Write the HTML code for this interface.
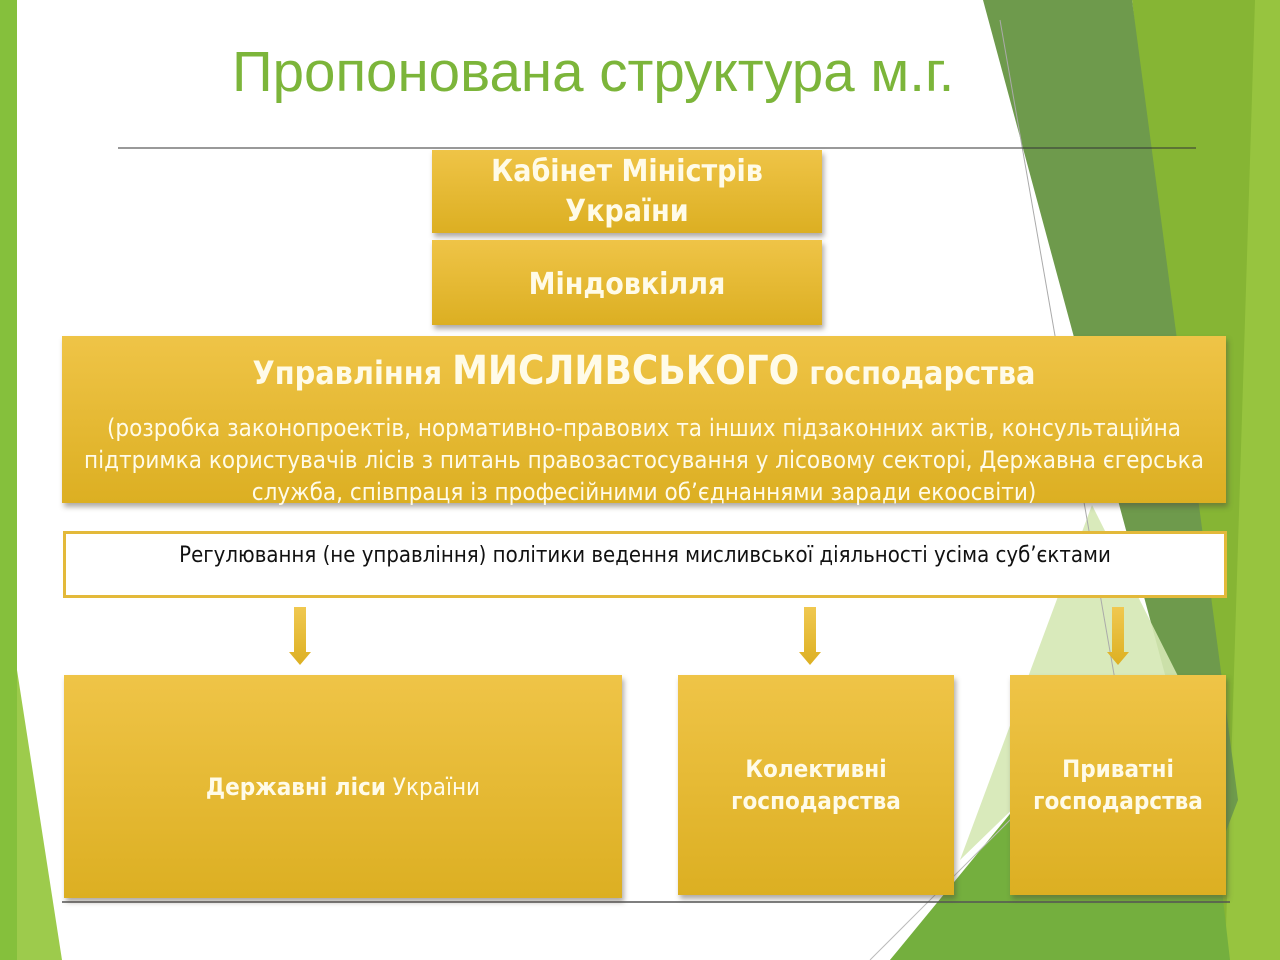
<!DOCTYPE html>
<html><head><meta charset="utf-8">
<style>
body{margin:0;width:1280px;height:960px;overflow:hidden;background:#fff;position:relative;font-family:"DejaVu Sans Condensed","DejaVu Sans","Liberation Sans",sans-serif;}
.a{position:absolute;}
.g{position:absolute;background:linear-gradient(#efc447,#dcaf22);box-shadow:2px 4px 5px rgba(80,70,60,.45);color:#fffbe8;display:flex;align-items:center;justify-content:center;text-align:center;}
.t{font-weight:bold;}
.nw{white-space:nowrap;}
</style></head><body>
<svg class="a" style="left:0;top:0" width="1280" height="960">
<rect x="0" y="0" width="17" height="960" fill="#85c03c"/>
<polygon points="17,670 17,960 62,960" fill="#9dcb4c"/>
<polygon points="1132,0 1280,0 1280,960 890,960 1120,690 1210,690" fill="#86b534"/>
<polygon points="1255,0 1280,0 1280,960 1225,960" fill="#97c43f"/>
<polygon points="983,0 1132,0 1238,800 1215,860" fill="#6e9a4c"/>
<polygon points="1092,505 1190,700 1125,700 960,860" fill="#d5e8b4" opacity="0.9"/>
<polygon points="890,960 1120,680 1200,700 1230,960" fill="#74af3e"/>
<line x1="1000" y1="20" x2="1115" y2="680" stroke="#aaa" stroke-width="1"/>
<line x1="870" y1="960" x2="1060" y2="770" stroke="#bbb" stroke-width="1"/>
<line x1="118" y1="148" x2="1196" y2="148" stroke="#333" stroke-width="1"/>
<line x1="62" y1="902" x2="1230" y2="902" stroke="#555" stroke-width="1.5"/>
</svg>
<div class="a nw" style="left:232px;top:40px;font-family:'Liberation Sans',sans-serif;font-size:56.5px;color:#7cb53a;line-height:64px;">Пропонована структура м.г.</div>

<div class="g t" style="left:432px;top:150px;width:390px;height:83px;font-size:30px;line-height:40px;">Кабінет Міністрів<br>України</div>
<div class="g t" style="left:432px;top:240px;width:390px;height:85px;font-size:30px;padding-top:3px;box-sizing:border-box;">Міндовкілля</div>

<div class="g" style="left:62px;top:336px;width:1164px;height:167px;display:block;">
<div class="t nw" style="margin-top:15px;font-size:32px;line-height:40px;">Управління <span style="font-size:40px">МИСЛИВСЬКОГО</span> господарства</div>
<div class="nw" style="margin-top:19px;font-size:24px;line-height:32px;">(розробка законопроектів, нормативно-правових та інших підзаконних актів, консультаційна<br>підтримка користувачів лісів з питань правозастосування у лісовому секторі, Державна єгерська<br>служба, співпраця із професійними об’єднаннями заради екоосвіти)</div>
</div>

<div class="a" style="left:63px;top:531px;width:1158px;height:61px;border:3px solid #e3b93a;background:#fff;text-align:center;">
<div class="nw" style="margin-top:8px;font-size:22px;line-height:28px;color:#111;">Регулювання (не управління) політики ведення мисливської діяльності усіма суб’єктами</div>
</div>

<svg class="a" style="left:0;top:600px" width="1280" height="70">
<defs><linearGradient id="ag" x1="0" y1="0" x2="0" y2="1"><stop offset="0" stop-color="#f0c850"/><stop offset="1" stop-color="#ddb022"/></linearGradient></defs>
<g fill="url(#ag)">
<polygon points="294,7 306,7 306,52 311,52 300,65 289,52 294,52"/>
<polygon points="804,7 816,7 816,52 821,52 810,65 799,52 804,52"/>
<polygon points="1112,7 1124,7 1124,52 1129,52 1118,65 1107,52 1112,52"/>
</g></svg>

<div class="g nw" style="left:64px;top:675px;width:558px;height:223px;font-size:24px;"><span><b>Державні ліси</b> України</span></div>
<div class="g t" style="left:678px;top:675px;width:276px;height:220px;font-size:24px;line-height:32px;">Колективні<br>господарства</div>
<div class="g t" style="left:1010px;top:675px;width:216px;height:220px;font-size:24px;line-height:32px;">Приватні<br>господарства</div>
</body></html>
